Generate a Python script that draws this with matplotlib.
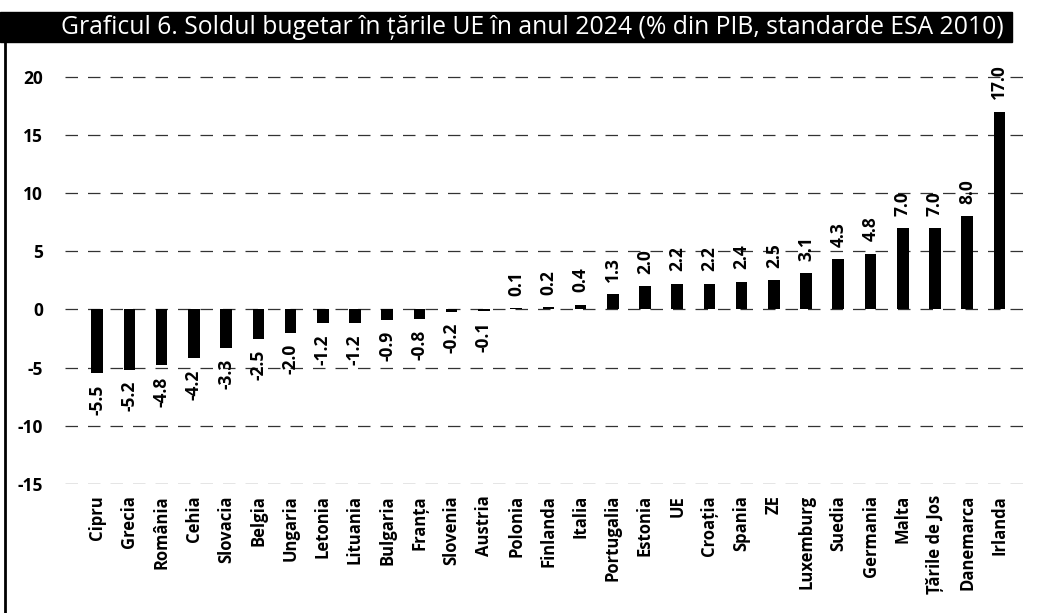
import matplotlib.pyplot as plt
from matplotlib.patches import Rectangle
from matplotlib.lines import Line2D

tari = ['Cipru', 'Grecia', 'România', 'Cehia', 'Slovacia', 'Belgia', 'Ungaria',
        'Letonia', 'Lituania', 'Bulgaria', 'Franța', 'Slovenia', 'Austria',
        'Polonia', 'Finlanda', 'Italia', 'Portugalia', 'Estonia', 'UE',
        'Croația', 'Spania', 'ZE', 'Luxemburg', 'Suedia', 'Germania', 'Malta',
        'Țările de Jos', 'Danemarca', 'Irlanda']
sold = [-5.5, -5.2, -4.8, -4.2, -3.3, -2.5, -2.0, -1.2, -1.2, -0.9, -0.8, -0.2,
        -0.1, 0.1, 0.2, 0.4, 1.3, 2.0, 2.2, 2.2, 2.4, 2.5, 3.1, 4.3, 4.8, 7.0,
        7.0, 8.0, 17.0]
y_ticks = [-15, -10, -5, 0, 5, 10, 15, 20]

plt.rcParams['font.family'] = ['Open Sans', 'DejaVu Sans']
plt.rcParams['axes.unicode_minus'] = False

W, H = 1048, 613
fig = plt.figure(figsize=(W / 100, H / 100), dpi=100)

# axele: stanga ~65px, dreapta ~1030px, sus ~50px, jos ~484px
ax = fig.add_axes([65 / W, (H - 484) / H, (1030 - 65) / W, (484 - 50) / H])

x = list(range(len(tari)))
ax.bar(x, sold, width=0.36, color='black', zorder=3)

for xi, v in zip(x, sold):
    if v >= 0:
        ax.annotate(f'{v:.1f}', (xi, v), xytext=(0, 9), textcoords='offset points',
                    rotation=90, ha='center', va='bottom', fontsize=12.5,
                    fontweight='bold')
    else:
        ax.annotate(f'{v:.1f}', (xi, v), xytext=(0, -8), textcoords='offset points',
                    rotation=90, ha='center', va='top', fontsize=12.5,
                    fontweight='bold')

ax.set_xlim(-1, len(tari) - 0.05)
ax.set_ylim(-15, 22.3)
ax.set_yticks(y_ticks)
ax.set_xticks(x)
ax.set_xticklabels(tari, rotation=90, fontsize=12, fontweight='bold')
ax.tick_params(axis='both', length=0)
ax.tick_params(axis='y', pad=16, labelsize=12.5)
ax.tick_params(axis='x', pad=8)
for lbl in ax.get_yticklabels():
    lbl.set_fontweight('bold')

ax.yaxis.grid(True, color='#333333', lw=0.9, ls=(0, (10, 8)), zorder=0)
for s in ax.spines.values():
    s.set_visible(False)

# bara de titlu
fig.patches.append(Rectangle((0, (H - 42) / H), 1012 / W, 30 / H,
                             transform=fig.transFigure, color='black'))
fig.text(532 / W, (H - 27) / H,
         'Graficul 6. Soldul bugetar în țările UE în anul 2024 (% din PIB, standarde ESA 2010)',
         color='white', fontsize=17.8, ha='center', va='center')

# chenar stanga
fig.lines.append(Line2D([5 / W, 5 / W], [0, (H - 42) / H], transform=fig.transFigure,
                        color='black', lw=2))

fig.savefig('out.png', dpi=100)
